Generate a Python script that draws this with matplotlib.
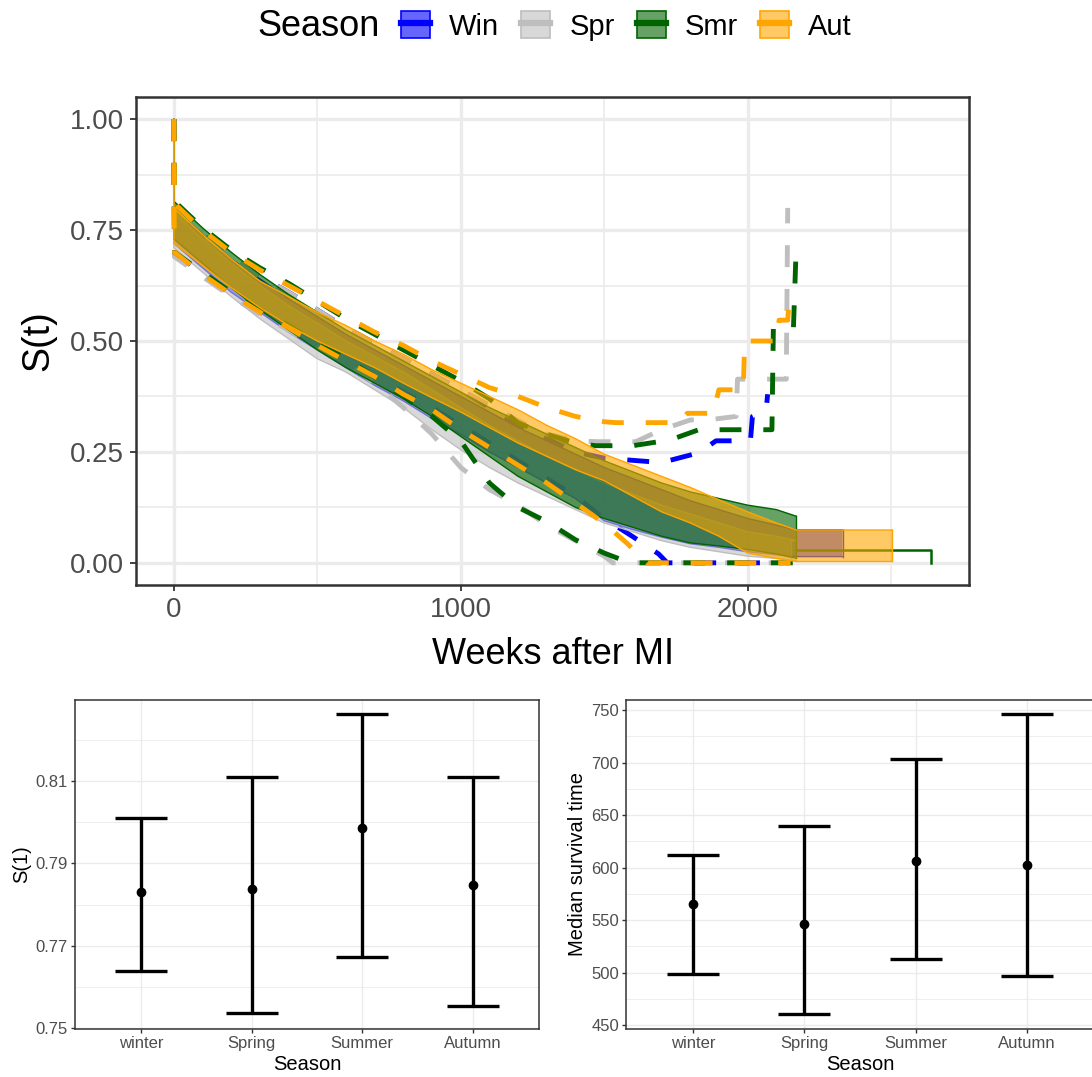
import matplotlib
matplotlib.use("Agg")
import matplotlib.pyplot as plt
from matplotlib.patches import Patch
from matplotlib.lines import Line2D
from matplotlib.colors import to_rgba

plt.rcParams['font.family'] = ['Liberation Sans', 'DejaVu Sans']

# ---- Kaplan-Meier panel data ----
season_keys = ['Win', 'Spr', 'Smr', 'Aut']
season_cols = ['#0000FF', '#BEBEBE', '#006400', '#FFA500']

ribbon_t = [0, 0, 100, 200, 300, 400, 500, 600, 700, 800, 900, 1000, 1100, 1200,
            1300, 1400, 1500, 1600, 1700, 1800, 1900, 2000, 2100, 2170]
win_lo = [1.0, 0.72, 0.665, 0.61, 0.565, 0.52, 0.48, 0.44, 0.40, 0.365, 0.325, 0.29, 0.25, 0.215,
          0.18, 0.145, 0.095, 0.075, 0.058, 0.043, 0.035, 0.025, 0.018, 0.014]
win_hi = [1.0, 0.80, 0.74, 0.685, 0.64, 0.595, 0.555, 0.515, 0.48, 0.445, 0.41, 0.375, 0.34, 0.305,
          0.275, 0.245, 0.215, 0.19, 0.165, 0.14, 0.12, 0.10, 0.085, 0.074]
spr_lo = [1.0, 0.71, 0.655, 0.60, 0.55, 0.505, 0.46, 0.43, 0.39, 0.35, 0.30, 0.255, 0.215, 0.18,
          0.15, 0.12, 0.09, 0.07, 0.05, 0.035, 0.025, 0.015, 0.01, 0.005]
spr_hi = [1.0, 0.79, 0.73, 0.675, 0.625, 0.58, 0.54, 0.50, 0.465, 0.43, 0.39, 0.35, 0.31, 0.275,
          0.24, 0.21, 0.18, 0.155, 0.13, 0.11, 0.09, 0.07, 0.06, 0.05]
smr_lo = [1.0, 0.73, 0.675, 0.62, 0.57, 0.525, 0.48, 0.44, 0.405, 0.37, 0.33, 0.285, 0.24, 0.195,
          0.16, 0.125, 0.10, 0.08, 0.06, 0.045, 0.038, 0.03, 0.02, 0.01]
smr_hi = [1.0, 0.815, 0.755, 0.70, 0.65, 0.605, 0.565, 0.525, 0.49, 0.455, 0.42, 0.385, 0.35, 0.32,
          0.29, 0.26, 0.23, 0.205, 0.18, 0.16, 0.145, 0.13, 0.12, 0.105]
aut_lo = [1.0, 0.72, 0.67, 0.62, 0.575, 0.535, 0.50, 0.47, 0.44, 0.405, 0.372, 0.34, 0.305, 0.27,
          0.24, 0.21, 0.185, 0.15, 0.115, 0.09, 0.06, 0.022, 0.01, 0.003]
aut_hi = [1.0, 0.80, 0.74, 0.685, 0.635, 0.60, 0.565, 0.535, 0.50, 0.47, 0.435, 0.405, 0.375, 0.345,
          0.31, 0.28, 0.245, 0.22, 0.195, 0.17, 0.142, 0.115, 0.09, 0.074]
ribbon_end = [2331, 2150, 2170, 2505]

smr_tail_t = [2170, 2640, 2640]
smr_tail_s = [0.029, 0.029, 0.0]

# dashed bands
win_up_t = [0, 2, 100, 200, 300, 400, 500, 600, 700, 800, 900, 1000, 1100, 1200, 1300,
            1400, 1500, 1700, 1830, 1890, 2010, 2017, 2065, 2070]
win_up = [1.0, 0.80, 0.74, 0.69, 0.645, 0.61, 0.57, 0.53, 0.495, 0.46, 0.425, 0.39, 0.35, 0.31,
          0.28, 0.25, 0.236, 0.226, 0.248, 0.275, 0.275, 0.33, 0.345, 0.38]
spr_up_t = [0, 2, 100, 200, 300, 400, 500, 600, 700, 800, 900, 1000, 1100, 1200, 1300,
            1400, 1480, 1610, 1700, 1800, 1860, 1960, 1965, 2135, 2140]
spr_up = [1.0, 0.80, 0.74, 0.69, 0.645, 0.61, 0.57, 0.53, 0.495, 0.46, 0.425, 0.39, 0.355, 0.32,
          0.29, 0.275, 0.273, 0.273, 0.30, 0.322, 0.322, 0.33, 0.414, 0.414, 0.80]
smr_up_t = [0, 2, 100, 200, 300, 400, 500, 600, 700, 800, 900, 1000, 1100, 1200, 1300,
            1400, 1470, 1600, 1730, 1830, 2050, 2085, 2090, 2160, 2170]
smr_up = [1.0, 0.815, 0.755, 0.705, 0.665, 0.63, 0.59, 0.55, 0.515, 0.48, 0.445, 0.41, 0.37,
          0.315, 0.29, 0.27, 0.264, 0.264, 0.277, 0.30, 0.30, 0.30, 0.53, 0.53, 0.72]
aut_up_t = [0, 2, 100, 200, 300, 400, 500, 600, 700, 800, 900, 1000, 1100, 1200, 1300,
            1400, 1500, 1540, 1760, 1790, 1880, 1900, 1985, 1990, 2100, 2110, 2140, 2146]
aut_up = [1.0, 0.81, 0.75, 0.70, 0.66, 0.625, 0.59, 0.555, 0.52, 0.49, 0.455, 0.425, 0.395,
          0.375, 0.35, 0.33, 0.318, 0.316, 0.316, 0.337, 0.337, 0.39, 0.39, 0.50, 0.50, 0.547,
          0.547, 0.60]

win_dn_t = [0, 2, 100, 200, 300, 400, 500, 600, 700, 800, 900, 1000, 1100, 1200, 1300,
            1400, 1500, 1600, 1690, 1720, 2060]
win_dn = [1.0, 0.70, 0.65, 0.605, 0.565, 0.53, 0.49, 0.455, 0.42, 0.385, 0.35, 0.31, 0.27,
          0.23, 0.19, 0.15, 0.10, 0.059, 0.02, 0.0, 0.0]
spr_dn_t = [0, 2, 100, 200, 300, 400, 500, 600, 700, 800, 900, 1000, 1100, 1200, 1300,
            1400, 1500, 1530, 2150]
spr_dn = [1.0, 0.69, 0.645, 0.60, 0.56, 0.525, 0.485, 0.45, 0.405, 0.35, 0.29, 0.215, 0.165,
          0.13, 0.085, 0.05, 0.015, 0.0, 0.0]
smr_dn_t = [0, 2, 100, 200, 300, 400, 500, 600, 700, 800, 900, 1000, 1100, 1200, 1300,
            1400, 1500, 1590, 2170]
smr_dn = [1.0, 0.70, 0.655, 0.61, 0.57, 0.535, 0.495, 0.46, 0.42, 0.375, 0.33, 0.275, 0.18,
          0.125, 0.093, 0.052, 0.022, 0.0, 0.0]
aut_dn_t = [0, 2, 100, 200, 300, 400, 500, 600, 700, 800, 900, 1000, 1100, 1200, 1300,
            1400, 1500, 1580, 1650, 2150]
aut_dn = [1.0, 0.70, 0.65, 0.605, 0.565, 0.53, 0.49, 0.455, 0.42, 0.38, 0.345, 0.30, 0.26,
          0.22, 0.18, 0.135, 0.089, 0.044, 0.0, 0.0]

ribbons = [(win_lo, win_hi), (spr_lo, spr_hi), (smr_lo, smr_hi), (aut_lo, aut_hi)]
uppers = [(win_up_t, win_up), (spr_up_t, spr_up), (smr_up_t, smr_up), (aut_up_t, aut_up)]
lowers = [(win_dn_t, win_dn), (spr_dn_t, spr_dn), (smr_dn_t, smr_dn), (aut_dn_t, aut_dn)]

# ---- summary panels ----
seasons = ['winter', 'Spring', 'Summer', 'Autumn']
s1_est = [0.7831, 0.7839, 0.7986, 0.7847]
s1_lo = [0.7640, 0.7536, 0.7673, 0.7554]
s1_hi = [0.8011, 0.8111, 0.8262, 0.8110]
med_est = [565, 546, 606, 603]
med_lo = [499, 461, 513, 497]
med_hi = [612, 640, 703, 746]

W, H = 1092, 1077
fig = plt.figure(figsize=(W / 100, H / 100), dpi=100)


def frac(l, t, r, b):
    return [l / W, 1 - b / H, (r - l) / W, (b - t) / H]


grid_c = '#EBEBEB'
txt_c = '#4D4D4D'
edge_c = '#333333'

# ---------------- top panel ----------------
ax = fig.add_axes(frac(136, 97, 969, 585))
for i, (lo, hi) in enumerate(ribbons):
    c = season_cols[i]
    x = ribbon_t + [ribbon_end[i]]
    ylo = lo + [lo[-1]]
    yhi = hi + [hi[-1]]
    z = 2 + i
    ax.fill_between(x, ylo, yhi, facecolor=to_rgba(c, 0.6), edgecolor='none', zorder=z)
    ax.plot(x, ylo, color=c, lw=1.0, zorder=z)
    ax.plot(x, yhi, color=c, lw=1.0, zorder=z)
    ax.plot([x[-1], x[-1]], [ylo[-1], yhi[-1]], color=c, lw=1.0, zorder=z)
    if i == 2:
        ax.plot(smr_tail_t, smr_tail_s, color=c, lw=1.8, zorder=z)
    for tt, ss in (uppers[i], lowers[i]):
        ax.plot(tt, ss, color=c, lw=3.5, zorder=z + 0.5, linestyle=(0, (4.5, 4.5)))

ax.set_xlim(-132, 2772)
ax.set_ylim(-0.05, 1.05)
ax.set_xticks([0, 1000, 2000])
ax.set_xticks([500, 1500, 2500], minor=True)
ax.set_yticks([0, 0.25, 0.5, 0.75, 1.0])
ax.set_yticklabels(['0.00', '0.25', '0.50', '0.75', '1.00'])
ax.set_yticks([0.125, 0.375, 0.625, 0.875], minor=True)
ax.grid(which='major', color=grid_c, lw=2.4, zorder=0)
ax.grid(which='minor', color=grid_c, lw=1.2, zorder=0)
ax.set_axisbelow(True)
ax.tick_params(which='major', length=4.5, width=1.3, color=edge_c, labelsize=20,
               labelcolor=txt_c, pad=4)
ax.tick_params(which='minor', length=0)
for s in ax.spines.values():
    s.set_color(edge_c)
    s.set_linewidth(1.8)
ax.set_xlabel('Weeks after MI', fontsize=26, labelpad=10)
ax.set_ylabel('S(t)', fontsize=27, labelpad=10)

# legend
fig.text(257 / W, 1 - 27 / H, 'Season', fontsize=26, va='center', ha='left')
handles = [(Patch(facecolor=to_rgba(c, 0.6), edgecolor=c, lw=1.2),
            Line2D([], [], color=c, lw=4.5)) for c in season_cols]
fig.legend(handles, season_keys, loc='center left', bbox_to_anchor=(401 / W, 1 - 26 / H),
           ncol=4, frameon=False, fontsize=21, handlelength=1.0, handleheight=1.05,
           handletextpad=0.65, columnspacing=0.75, borderpad=0, borderaxespad=0)


# ---------------- bottom panels ----------------
def summary_panel(rect, est, lo, hi, ylim, yticks, yminor, ylabel, xlim):
    a = fig.add_axes(rect)
    xs = list(range(1, len(seasons) + 1))
    yerr = [[e - l for e, l in zip(est, lo)], [h - e for e, h in zip(est, hi)]]
    a.errorbar(xs, est, yerr=yerr, fmt='o', color='black', ms=6, elinewidth=2.4,
               capsize=19, capthick=2.4, zorder=3)
    a.set_xlim(*xlim)
    a.set_ylim(*ylim)
    a.set_xticks(xs)
    a.set_xticklabels(seasons)
    a.set_yticks(yticks)
    a.set_yticks(yminor, minor=True)
    a.grid(which='major', color=grid_c, lw=1.0, zorder=0)
    a.grid(which='minor', axis='y', color=grid_c, lw=0.6, zorder=0)
    a.set_axisbelow(True)
    a.tick_params(which='major', length=3, width=1.0, color=edge_c, labelsize=12,
                  labelcolor=txt_c, pad=2)
    a.tick_params(which='minor', length=0)
    for s in a.spines.values():
        s.set_color(edge_c)
        s.set_linewidth(1.1)
    a.set_xlabel('Season', fontsize=14.5, labelpad=3)
    a.set_ylabel(ylabel, fontsize=14.5, labelpad=3)
    return a


summary_panel(frac(75, 700, 539, 1029), s1_est, s1_lo, s1_hi, (0.7498, 0.8297),
              [0.75, 0.77, 0.79, 0.81], [0.76, 0.78, 0.80, 0.82], 'S(1)', (0.4, 4.6))
summary_panel(frac(626, 700, 1094, 1029), med_est, med_lo, med_hi, (446.5, 759.5),
              [450, 500, 550, 600, 650, 700, 750], [475, 525, 575, 625, 675, 725],
              'Median survival time', (0.4, 4.6))

fig.savefig('out.png', dpi=100)
